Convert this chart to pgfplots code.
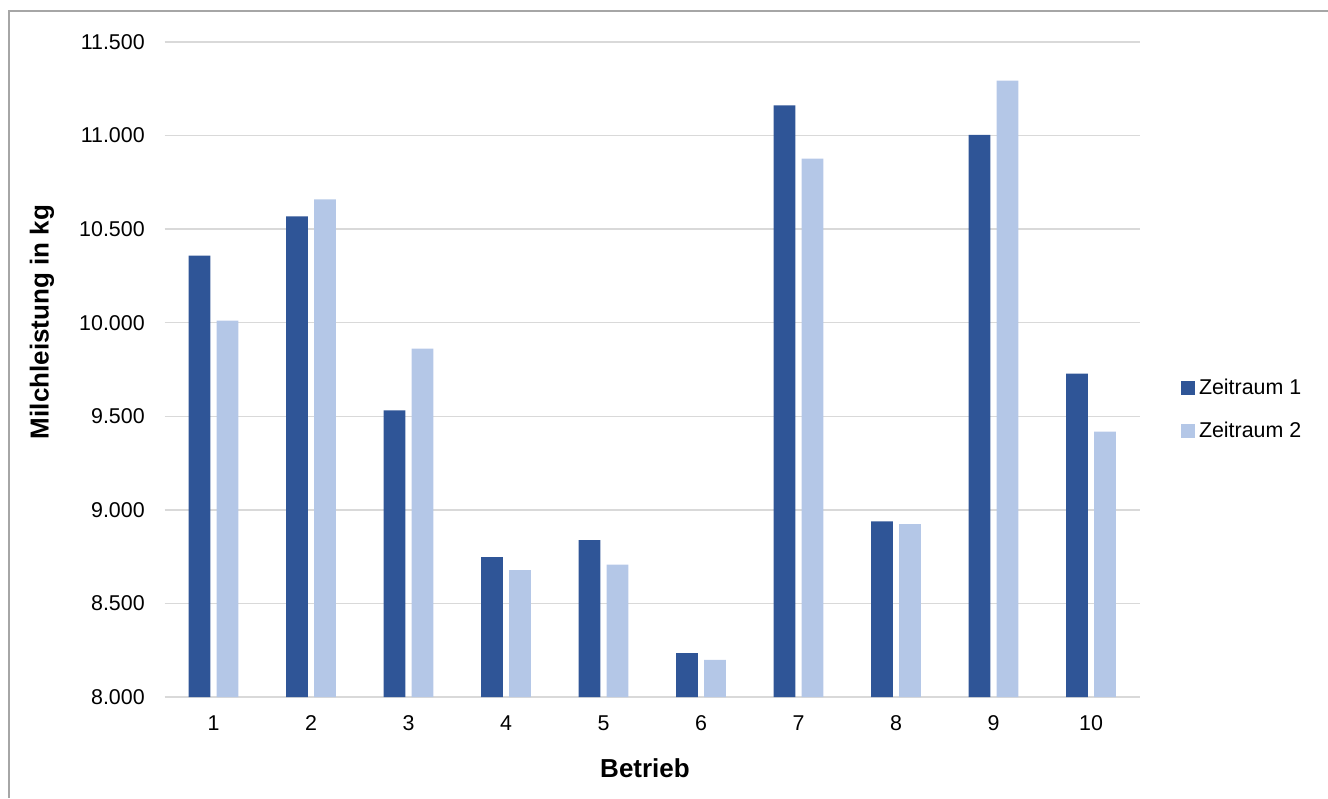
\documentclass[border=0pt]{standalone}
\usepackage{fontspec}
\setmainfont{Liberation Sans}
\usepackage{pgfplots}
\pgfplotsset{compat=1.18}
\definecolor{zdark}{HTML}{2F5597}
\definecolor{zlight}{HTML}{B4C7E7}
\definecolor{gridc}{HTML}{D9D9D9}
\definecolor{framec}{HTML}{A6A6A6}
\begin{document}
\begin{tikzpicture}
\path[use as bounding box] (0pt,0pt) rectangle (664pt,399pt);
\draw[framec, line width=0.75pt] (4.5pt,0pt) -- (4.5pt,393.5pt) -- (664pt,393.5pt);
\begin{axis}[
  at={(82.375pt,50.5pt)}, anchor=south west,
  scale only axis, width=487.5pt, height=327.5pt,
  ybar=3.15pt, bar width=10.85pt,
  xmin=0.5, xmax=10.5, ymin=8000, ymax=11500,
  xtick={1,...,10}, ytick={8000,8500,...,11500},
  ymajorgrids, grid style={gridc, line width=0.75pt},
  axis line style={draw=none},
  major tick length=0pt,
  tick label style={font=\fontsize{10.7}{12}\selectfont, text=black},
  /pgf/number format/assume math mode=true,
  /pgf/number format/1000 sep={.},
  scaled y ticks=false,
  xticklabel style={anchor=base, yshift=-16.5pt},
  yticklabel style={xshift=-6.5pt},
  xlabel={Betrieb},
  xlabel style={at={(axis description cs:0.4926,-0.1084)}, anchor=center, font=\fontsize{13}{15}\selectfont\bfseries},
  ylabel={Milchleistung in kg},
  ylabel style={at={(axis description cs:-0.1259,0.5725)}, anchor=center, font=\fontsize{13}{15}\selectfont\bfseries},
  legend style={at={(axis description cs:1.0423,0.4389)}, anchor=west, draw=none, fill=none, inner sep=0pt,
    font=\fontsize{10.7}{12}\selectfont, row sep=8pt, nodes={inner xsep=2pt}},
  legend image code/.code={\fill[#1] (0pt,-3.4pt) rectangle (6.8pt,3.4pt);},
]
\addplot[fill=zdark, draw=none] coordinates {(1,10358) (2,10568) (3,9532) (4,8748) (5,8838) (6,8234) (7,11162) (8,8939) (9,11004) (10,9728)};
\addplot[fill=zlight, draw=none] coordinates {(1,10011) (2,10659) (3,9862) (4,8678) (5,8708) (6,8198) (7,10877) (8,8924) (9,11294) (10,9418)};
\legend{Zeitraum 1, Zeitraum 2}
\end{axis}
\end{tikzpicture}
\end{document}
